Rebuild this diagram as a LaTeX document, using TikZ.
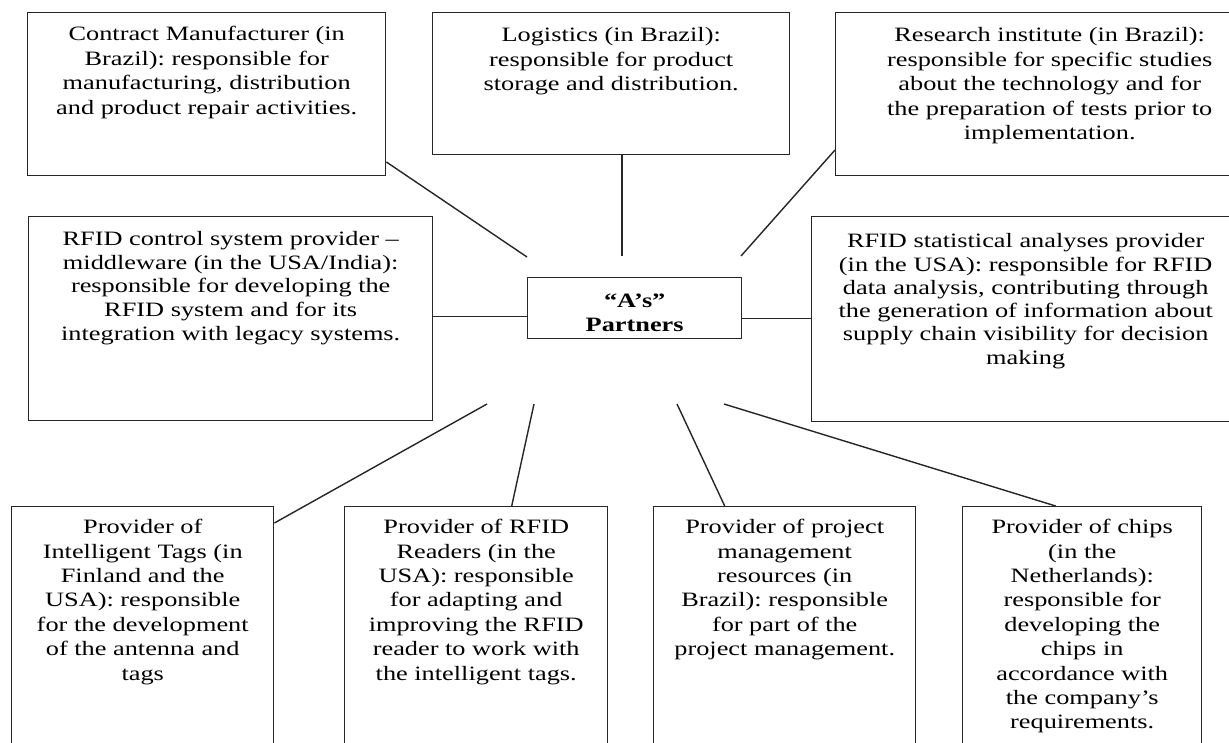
\documentclass[tikz,border=0pt]{standalone}
\usepackage{fontspec}
\setmainfont{Liberation Serif}[FakeStretch=1.29]
\usetikzlibrary{calc}

% #1 width, #2 height, #3 depth of first baseline, #4 baselineskip, #5 text
\newcommand\pcell[5]{\parbox[c][#2][t]{#1}{\fontsize{20.4pt}{#4}\selectfont\frenchspacing\centering\rule{0pt}{#3}#5\par}}

\tikzset{
  partner/.style={draw=black!85, line width=1.4pt, inner sep=0pt, anchor=north west, fill=white},
  link/.style={draw=black!85, line width=1.4pt}
}

\begin{document}
\begin{tikzpicture}[x=1pt, y=-1pt]
\useasboundingbox (0,0) rectangle (1229,742);
\clip (0,0) rectangle (1229,742);
\fill[white] (0,0) rectangle (1229,742);

% top row
\node[partner] (cm) at (27,12) {\pcell{358pt}{163pt}{28pt}{24.6pt}{Contract Manufacturer (in\\ Brazil): responsible for\\ manufacturing, distribution\\ and product repair activities.}};
\node[partner] (lg) at (432,12) {\pcell{357pt}{142pt}{29pt}{24.6pt}{Logistics (in Brazil):\\ responsible for product\\ storage and distribution.}};
\node[partner] (ri) at (835,12) {\pcell{428pt}{163pt}{29pt}{24.5pt}{Research institute (in Brazil):\hspace*{22pt}\\ responsible for specific studies\\ about the technology and for\\ the preparation of tests prior to\\ implementation.}};

% middle row
\node[partner] (mw) at (28,216) {\pcell{404pt}{204pt}{29pt}{23.6pt}{RFID control system provider –\\ middleware (in the USA/India):\\ responsible for developing the\\ RFID system and for its\\ integration with legacy systems.}};
\node[partner] (hub) at (527,277) {\pcell{214pt}{61pt}{30pt}{24pt}{\bfseries “A’s”\\ Partners}};
\node[partner] (sa) at (811,216) {\pcell{428pt}{205pt}{31pt}{23.3pt}{RFID statistical analyses provider\\ (in the USA): responsible for RFID\\ data analysis, contributing through\\ the generation of information about\\ supply chain visibility for decision\\ making}};

% bottom row
\node[partner] (tg) at (11,506) {\pcell{262pt}{260pt}{27pt}{24.4pt}{Provider of\\ Intelligent Tags (in\\ Finland and the\\ USA): responsible\\ for the development\\ of the antenna and\\ tags}};
\node[partner] (rd) at (344,506) {\pcell{263pt}{260pt}{27pt}{24.4pt}{Provider of RFID\\ Readers (in the\\ USA): responsible\\ for adapting and\\ improving the RFID\\ reader to work with\\ the intelligent tags.}};
\node[partner] (pm) at (653,506) {\pcell{262pt}{260pt}{27pt}{24.4pt}{Provider of project\\ management\\ resources (in\\ Brazil): responsible\\ for part of the\\ project management.}};
\node[partner] (ch) at (962,506) {\pcell{239pt}{260pt}{27pt}{24.4pt}{Provider of chips\\ (in the\\ Netherlands):\\ responsible for\\ developing the\\ chips in\\ accordance with\\ the company’s\\ requirements.}};

% loose ends of the spokes around the hub
\coordinate (e1) at (527,257);
\coordinate (e2) at (622,256);
\coordinate (e3) at (741,256);
\coordinate (e6) at (487,404);
\coordinate (e7) at (534,404);
\coordinate (e8) at (677,404);
\coordinate (e9) at (724,404);

% spokes
\draw[link] ([yshift=-150pt]cm.north east) -- (e1);
\draw[link] (e2 |- lg.south) -- (e2);
\draw[link] ([yshift=-138pt]ri.north west) -- (e3);
\draw[link] ([yshift=-8pt]hub.west) -- ([yshift=-8pt]hub.west -| mw.east);
\draw[link] ([yshift=-10pt]hub.east) -- ([yshift=-10pt]hub.east -| sa.west);
\draw[link] ([yshift=-17pt]tg.north east) -- (e6);
\draw[link] ([xshift=35.5pt]rd.north) -- (e7);
\draw[link] ([xshift=-60pt]pm.north) -- (e8);
\draw[link] ([xshift=-26.5pt]ch.north) -- (e9);
\end{tikzpicture}
\end{document}
